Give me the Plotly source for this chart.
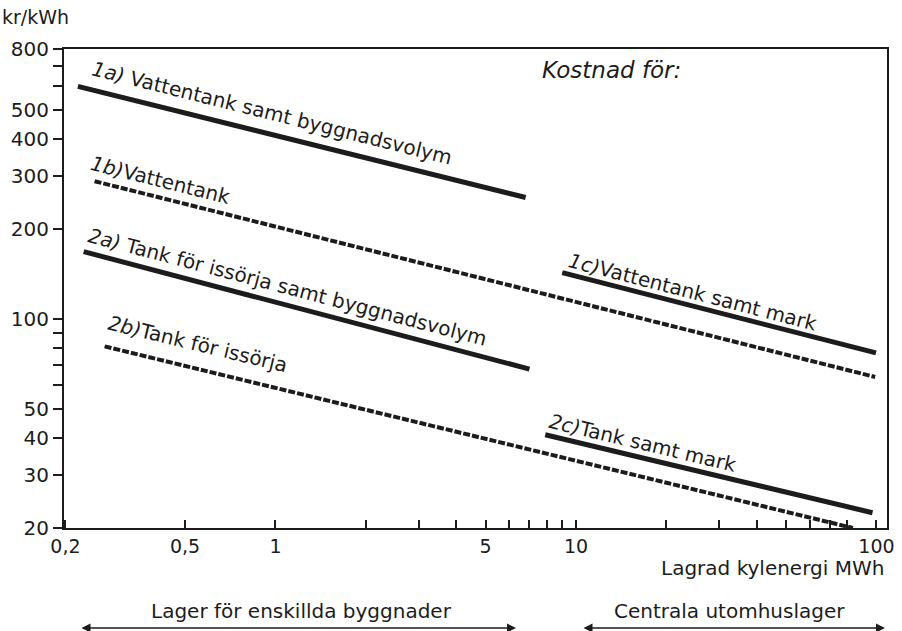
import plotly.graph_objects as go

# ---- data ----
x_1a = [0.22, 6.8];  y_1a = [600, 255]
x_1b = [0.25, 99];   y_1b = [289, 64]
x_1c = [9.0, 99.6];  y_1c = [143, 77]
x_2a = [0.23, 7.0];  y_2a = [168, 68]
x_2b = [0.27, 83.5]; y_2b = [81, 20]
x_2c = [7.9, 97];    y_2c = [41, 22.5]

x_tickvals = [0.2, 0.5, 1, 2, 3, 4, 5, 6, 7, 8, 9, 10, 20, 30, 40, 50, 60, 70, 80, 100]
x_ticktext = ["0,2", "0,5", "1", "", "", "", "5", "", "", "", "", "10",
              "", "", "", "", "", "", "", "100"]
y_tickvals = [20, 30, 40, 50, 60, 70, 80, 90, 100, 200, 300, 400, 500, 600, 700, 800]
y_ticktext = ["20", "30", "40", "50", "", "", "", "", "100", "200", "300", "400",
              "500", "", "", "800"]

labels = ["<i>1a)</i> Vattentank samt byggnadsvolym", "<i>1b)</i>Vattentank",
          "<i>1c)</i>Vattentank samt mark", "<i>2a)</i> Tank för issörja samt byggnadsvolym",
          "<i>2b)</i>Tank för issörja", "<i>2c)</i>Tank samt mark"]

INK = "#1c1c1c"
FONT = "DejaVu Sans"

fig = go.Figure()
series = [(x_1a, y_1a, "solid"), (x_1b, y_1b, "dash"), (x_1c, y_1c, "solid"),
          (x_2a, y_2a, "solid"), (x_2b, y_2b, "dash"), (x_2c, y_2c, "solid")]
for (xs, ys, st), name in zip(series, labels):
    fig.add_trace(go.Scatter(
        x=xs, y=ys, mode="lines", name=name, showlegend=False,
        line=dict(color=INK, width=5 if st == "solid" else 4,
                  dash="solid" if st == "solid" else "7px,2px")))

L, R, T, B = 64, 15, 49, 103
W, H = 902, 631
pw, ph = W - L - R, H - T - B

def px(x):
    return (x - L) / pw

def py(y):
    return (H - B - y) / ph

def text_ann(txt, cx, cy, size, angle=0, xanchor="center"):
    return dict(text=txt, x=px(cx), y=py(cy), xref="paper", yref="paper",
                showarrow=False, textangle=angle, xanchor=xanchor, yanchor="middle",
                font=dict(family=FONT, size=size, color=INK))

ann = []
label_pos = [(272, 113, 14), (160, 180, 14), (693, 292, 14.5),
             (287, 287, 14.7), (198, 344, 13.6), (643, 443, 13.4)]
for txt, (cx, cy, ang) in zip(labels, label_pos):
    ann.append(text_ann(txt, cx, cy, 20, ang))

ann.append(text_ann("<i>Kostnad för:</i>", 611, 70, 23))
ann.append(text_ann("kr/kWh", 35, 17, 19))
ann.append(text_ann("Lagrad kylenergi MWh", 886, 568, 20, xanchor="right"))
ann.append(text_ann("Lager för enskillda byggnader", 301, 611, 20))
ann.append(text_ann("Centrala utomhuslager", 729, 611, 20))
for x0, x1 in [(80, 516), (582, 885)]:
    ann.append(dict(text="", x=px(x1), y=py(628), xref="paper", yref="paper",
                    ax=-(x1 - x0), ay=0, axref="pixel", ayref="pixel", showarrow=True,
                    arrowhead=2, startarrowhead=2, arrowside="end+start",
                    arrowwidth=1.5, arrowsize=1.2, startarrowsize=1.2, arrowcolor=INK))

fig.update_layout(
    width=W, height=H,
    margin=dict(l=L, r=R, t=T, b=B, autoexpand=False),
    paper_bgcolor="white", plot_bgcolor="white",
    font=dict(family=FONT, size=19, color=INK),
    annotations=ann,
    xaxis=dict(type="log", range=[-0.7038, 2.035], tickvals=x_tickvals, ticktext=x_ticktext,
               ticks="inside", ticklen=8, tickwidth=1.5, tickcolor=INK, automargin=False,
               showline=True, linecolor=INK, linewidth=2, mirror=True,
               showgrid=False, zeroline=False, tickfont=dict(family=FONT, size=19)),
    yaxis=dict(type="log", range=[1.30103, 2.90309], tickvals=y_tickvals, ticktext=y_ticktext,
               ticks="outside", ticklen=9, tickwidth=1.5, tickcolor=INK, automargin=False,
               showline=True, linecolor=INK, linewidth=2, mirror=True,
               showgrid=False, zeroline=False, tickfont=dict(family=FONT, size=20)),
)

fig.write_html("out.html", config={"displayModeBar": False},
               post_script="document.body.style.margin='0';document.body.style.overflow='hidden';")
